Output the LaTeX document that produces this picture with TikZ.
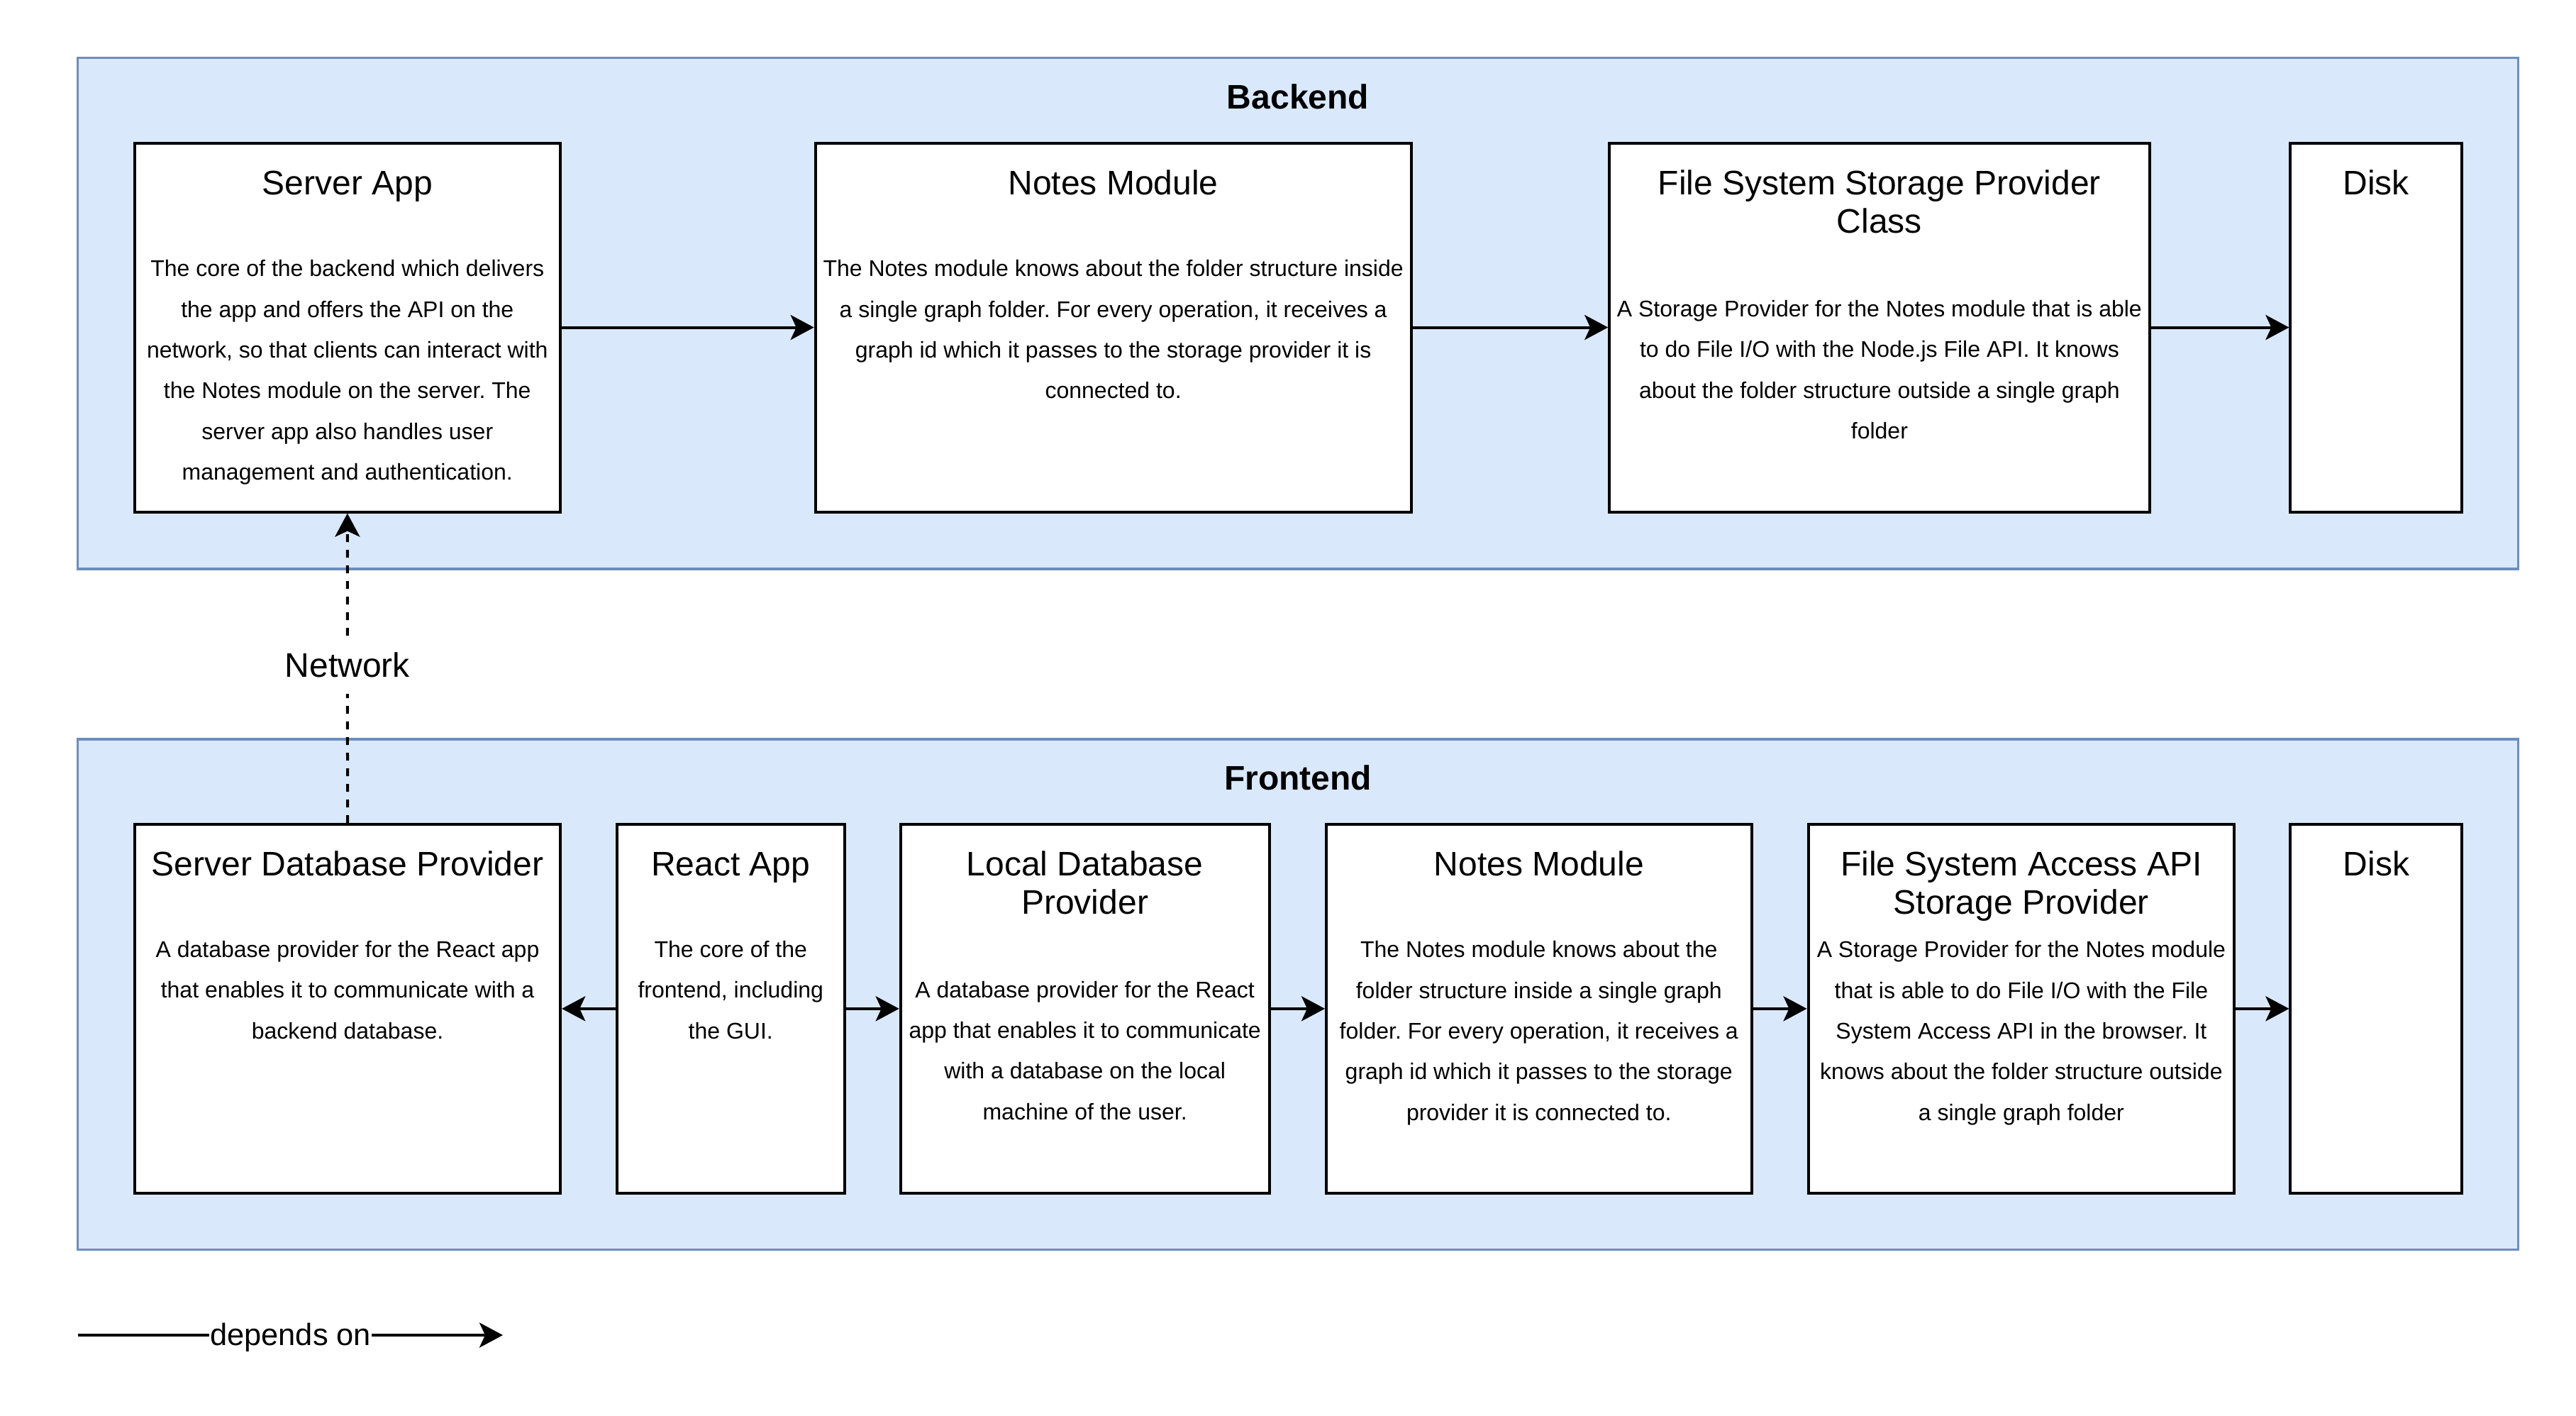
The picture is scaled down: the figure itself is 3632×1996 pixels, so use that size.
\documentclass[tikz,border=0pt]{standalone}
\usepackage{fontspec}
\setmainfont{Liberation Sans}
\usetikzlibrary{fit,arrows.meta}
\definecolor{ctrfill}{HTML}{DAE8FC}
\definecolor{ctrstroke}{HTML}{6C8EBF}
\newcommand{\hstrut}{\rule{0pt}{30pt}}
\frenchspacing
\tikzset{
  container/.style={draw=ctrstroke, fill=ctrfill, line width=1.6pt, inner sep=0pt},
  box/.style={draw=black, fill=white, line width=2pt, inner sep=0pt},
  ttl/.style={anchor=north, align=center, inner sep=0pt, font=\fontsize{24}{27.2}\selectfont},
  bodytext/.style={anchor=north, align=center, inner sep=0pt, font=\fontsize{16}{28.7}\selectfont},
  grp/.style={anchor=north, inner sep=0pt, font=\bfseries\fontsize{24}{27.2}\selectfont},
  dep/.style={line width=2pt, -{Stealth[length=16.5pt,width=17.5pt,inset=4pt]}},
  netdash/.style={dash pattern=on 5.5pt off 5.5pt},
  netlabel/.style={fill=white, inner xsep=2pt, inner ysep=7pt, text height=17.5pt, text depth=5pt, font=\fontsize{24}{27.2}\selectfont},
  legendlabel/.style={fill=white, inner xsep=0.5pt, inner ysep=0pt, anchor=base, yshift=-7pt, font=\fontsize{21.7}{26}\selectfont}
}
\begin{document}
\begin{tikzpicture}[x=0.5pt,y=-0.5pt]
\useasboundingbox (0,0) rectangle (3632,1996);

% containers
\node[container, fit={(109.4,81.5) (3550.6,802)}] (backend) {};
\node[grp] (backend-t) at (1830,93.2) {\hstrut Backend};
\node[container, fit={(109.4,1041.9) (3550.6,1761.8)}] (frontend) {};
\node[grp] (frontend-t) at (1830,1052.6) {\hstrut Frontend};

% backend boxes
\node[box, fit={(189.8,201.5) (789.8,721.6)}] (sa) {};
\node[ttl] (sa-t) at (489.8,213.8) {\hstrut Server App};
\node[bodytext] (sa-b) at (489.8,329.2) {\hstrut The core of the backend which delivers\\the app and offers the API on the\\network, so that clients can interact with\\the Notes module on the server. The\\server app also handles user\\management and authentication.};

\node[box, fit={(1149.7,201.5) (1989.6,721.6)}] (nmb) {};
\node[ttl] (nmb-t) at (1569.65,213.8) {\hstrut Notes Module};
\node[bodytext] (nmb-b) at (1569.65,329.2) {\hstrut The Notes module knows about the folder structure inside\\a single graph folder. For every operation, it receives a\\graph id which it passes to the storage provider it is\\connected to.};

\node[box, fit={(2269.2,201.5) (3030.6,721.6)}] (fsc) {};
\node[ttl] (fsc-t) at (2649.9,213.8) {\hstrut File System Storage Provider\\Class};
\node[bodytext] (fsc-b) at (2649.9,386.1) {\hstrut A Storage Provider for the Notes module that is able\\to do File I/O with the Node.js File API. It knows\\about the folder structure outside a single graph\\folder};

\node[box, fit={(3229.4,201.5) (3470.7,721.6)}] (diskb) {};
\node[ttl] (diskb-t) at (3350.05,213.8) {\hstrut Disk};

% frontend boxes
\node[box, fit={(189.9,1162.1) (790.2,1681.6)}] (sdb) {};
\node[ttl] (sdb-t) at (490.05,1173.6) {\hstrut Server Database Provider};
\node[bodytext] (sdb-b) at (490.05,1289) {\hstrut A database provider for the React app\\that enables it to communicate with a\\backend database.};

\node[box, fit={(869.8,1162.1) (1190.7,1681.6)}] (ra) {};
\node[ttl] (ra-t) at (1030.25,1173.6) {\hstrut React App};
\node[bodytext] (ra-b) at (1030.25,1289) {\hstrut The core of the\\frontend, including\\the GUI.};

\node[box, fit={(1269.7,1162.1) (1789.6,1681.6)}] (ldp) {};
\node[ttl] (ldp-t) at (1529.65,1173.6) {\hstrut Local Database\\Provider};
\node[bodytext] (ldp-b) at (1529.65,1345.6) {\hstrut A database provider for the React\\app that enables it to communicate\\with a database on the local\\machine of the user.};

\node[box, fit={(1870,1162.1) (2469.5,1681.6)}] (nmf) {};
\node[ttl] (nmf-t) at (2169.75,1173.6) {\hstrut Notes Module};
\node[bodytext] (nmf-b) at (2169.75,1289.3) {\hstrut The Notes module knows about the\\folder structure inside a single graph\\folder. For every operation, it receives a\\graph id which it passes to the storage\\provider it is connected to.};

\node[box, fit={(2549.5,1162.1) (3150.3,1681.6)}] (fsa) {};
\node[ttl] (fsa-t) at (2849.9,1173.6) {\hstrut File System Access API\\Storage Provider};
\node[bodytext] (fsa-b) at (2849.9,1289.3) {\hstrut A Storage Provider for the Notes module\\that is able to do File I/O with the File\\System Access API in the browser. It\\knows about the folder structure outside\\a single graph folder};

\node[box, fit={(3229.4,1162.1) (3471.4,1681.6)}] (diskf) {};
\node[ttl] (diskf-t) at (3350.4,1173.6) {\hstrut Disk};

% connectors backend
\draw[dep] (sa.east) -- (nmb.west);
\draw[dep] (nmb.east) -- (fsc.west);
\draw[dep] (fsc.east) -- (diskb.west);

% connectors frontend
\draw[dep] (ra.west) -- (sdb.east);
\draw[dep] (ra.east) -- (ldp.west);
\draw[dep] (ldp.east) -- (nmf.west);
\draw[dep] (nmf.east) -- (fsa.west);
\draw[dep] (fsa.east) -- (diskf.west);

% network
\draw[dep, netdash] (sdb.north) -- node[netlabel] (net) {Network} (sa.south);

% legend
\coordinate (lg-a) at (110.3,1882);
\coordinate (lg-b) at (709,1882);
\draw[dep] (lg-a) -- node[legendlabel] (lg-t) {depends on} (lg-b);
\end{tikzpicture}
\end{document}
